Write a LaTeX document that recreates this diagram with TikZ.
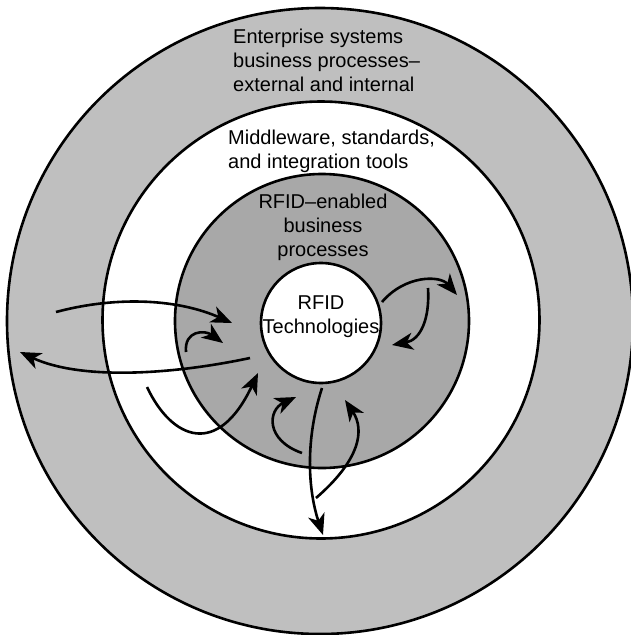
\documentclass[tikz,border=0pt]{standalone}
\usepackage{fontspec}
\setmainfont{Liberation Sans}
\usetikzlibrary{arrows.meta}
\definecolor{outergray}{gray}{0.75}
\definecolor{innergray}{gray}{0.66}
\tikzstyle{ring}=[circle,draw,line width=2.6pt,inner sep=0pt]
\tikzstyle{flow} = [draw,line width=2.6pt,-{Stealth[length=21pt,width=17pt,inset=6pt]}]
\tikzstyle{ringtext} = [font=\fontsize{20}{24}\selectfont,inner sep=0pt]

\begin{document}
\begin{tikzpicture}[x=1pt,y=-1pt]
    \useasboundingbox (0,0) rectangle (631,635);
    % First we draw the rings, outermost first
    \foreach \pos/\name/\size/\shade in {{(320,321)/enterprise/626/outergray},{(321,320)/middleware/437/white},{(322,321)/enabled/294/innergray},{(321,323)/core/120/white}}
        \node[ring,fill=\shade,minimum size=\size pt] (\name) at \pos {};

    % Then the ring captions (base is the last line)
    \node[ringtext,anchor=base west,align=left] (enterprisetext) at (233,91) {Enterprise systems\\business processes--\\external and internal};
    \node[ringtext,anchor=base west,align=left] (middlewaretext) at (228,168) {Middleware, standards,\\and integration tools};
    \node[ringtext,anchor=base,align=center] (enabledtext) at (323,256) {RFID--enabled\\business\\processes};
    \node[ringtext,anchor=base,align=center] (coretext) at (321,333) {RFID\\Technologies};

    % End points of the flows
    \foreach \x/\y/\name in {56/312/S1, 232/323/T1, 186/352/S2, 223/343/T2, 250/358/S3, 20/352/T3,
        147/387/S4, 258/373/T4, 302/453/S5, 296/397/T5, 322/388/S6, 323/535/T6,
        316/498/S7, 345/400/T7, 382/302/S8, 457/295/T8, 428/288/S9, 392/345/T9}
        \coordinate (\name) at (\x,\y);

    % Connect them with curved arrows
    \path[flow] (S1) .. controls +(64,-17) and +(-52,-23) .. (T1);
    \path[flow] (S2) .. controls +(-2,-22) and +(-18,-13) .. (T2);
    \path[flow] (S3) .. controls +(-80,17) and +(60,28) .. (T3);
    \path[flow] (S4) .. controls +(25,53) and +(-40,85) .. (T4);
    \path[flow] (S5) .. controls +(-37,-13) and +(-28,13) .. (T5);
    \path[flow] (S6) .. controls +(-17,52) and +(-15,-45) .. (T6);
    \path[flow] (S7) .. controls +(44,-38) and +(20,30) .. (T7);
    \path[flow] (S8) .. controls +(23,-27) and +(-17,-20) .. (T8);
    \path[flow] (S9) .. controls +(2,32) and +(28,-5) .. (T9);
\end{tikzpicture}
\end{document}
